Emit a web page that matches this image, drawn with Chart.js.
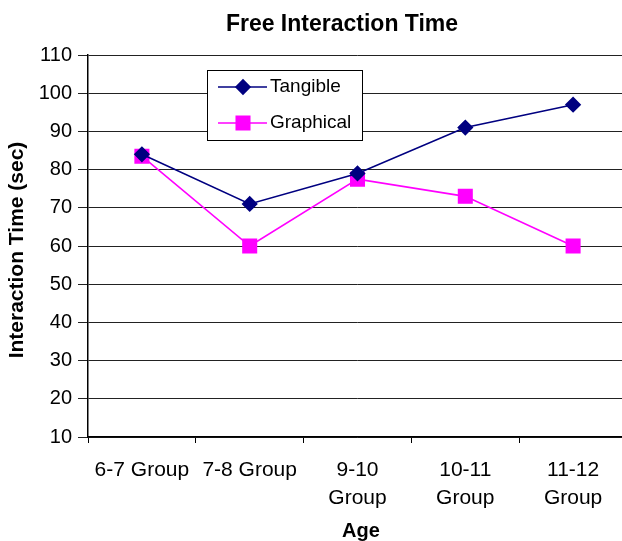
<!DOCTYPE html>
<html>
<head>
<meta charset="utf-8">
<script src="https://cdn.jsdelivr.net/npm/chart.js@4/dist/chart.umd.min.js"></script>
<style>
  html, body { margin: 0; padding: 0; background: #fff; overflow: hidden; }
  #wrap { width: 628px; height: 541px; }
</style>
</head>
<body>
<div id="wrap"><canvas id="c" width="628" height="541"></canvas></div>
<script>
// Age groups along the x axis (multi-line where the label wraps)
const categories = [
  "6-7 Group",
  "7-8 Group",
  ["9-10", "Group"],
  ["10-11", "Group"],
  ["11-12", "Group"]
];

// Mean free interaction time per group, in seconds
const tangible = [84, 71, 79, 91, 97];
const graphical = [83.5, 60, 77.5, 73, 60];

// Value axis range and step
const yMin = 10;
const yMax = 110;
const yStep = 10;

const FONT = "'Liberation Sans', Arial, Helvetica, sans-serif";

// Heading and axis titles, drawn as text on the canvas
const titlesPlugin = {
  id: 'titles',
  afterDraw(chart) {
    const ctx = chart.ctx;
    ctx.save();
    ctx.fillStyle = '#000';
    ctx.textAlign = 'center';
    ctx.textBaseline = 'middle';
    ctx.font = "bold 23px " + FONT;
    ctx.fillText('Free Interaction Time', 342, 25);
    ctx.font = "bold 20px " + FONT;
    ctx.fillText('Age', 361, 531);
    ctx.translate(17, 250);
    ctx.rotate(-Math.PI / 2);
    ctx.font = "bold 21px " + FONT;
    ctx.fillText('Interaction Time (sec)', 0, 0);
    ctx.restore();
  }
};

// Boxed legend inside the plot area, with line + marker samples
const boxLegend = {
  id: 'boxLegend',
  afterDraw(chart) {
    const ctx = chart.ctx;
    const ca = chart.chartArea;
    const x0 = ca.left + 119, y0 = ca.top + 15, w = 155, h = 70;
    ctx.save();
    ctx.fillStyle = '#fff';
    ctx.fillRect(x0, y0, w, h);
    ctx.strokeStyle = '#000';
    ctx.lineWidth = 1;
    ctx.strokeRect(x0 + 0.5, y0 + 0.5, w, h);
    chart.data.datasets.forEach((ds, i) => {
      const cy = y0 + 17 + i * 36;
      ctx.strokeStyle = ds.borderColor;
      ctx.lineWidth = ds.borderWidth;
      ctx.beginPath();
      ctx.moveTo(x0 + 11, cy);
      ctx.lineTo(x0 + 60, cy);
      ctx.stroke();
      ctx.fillStyle = ds.pointBackgroundColor;
      ctx.strokeStyle = ds.pointBorderColor;
      Chart.helpers.drawPoint(ctx, {
        pointStyle: ds.pointStyle,
        radius: ds.pointRadius,
        rotation: 0,
        borderWidth: 1
      }, x0 + 36, cy);
      ctx.fillStyle = '#000';
      ctx.font = "19px " + FONT;
      ctx.textAlign = 'left';
      ctx.textBaseline = 'middle';
      ctx.fillText(ds.label, x0 + 63, cy);
    });
    ctx.restore();
  }
};

new Chart(document.getElementById('c'), {
  type: 'line',
  data: {
    labels: categories,
    datasets: [
      {
        label: 'Tangible',
        data: tangible,
        borderColor: '#000080',
        backgroundColor: '#000080',
        pointBackgroundColor: '#000080',
        pointBorderColor: '#000080',
        borderWidth: 1.6,
        pointStyle: 'rectRot',
        pointRadius: 7,
        tension: 0
      },
      {
        label: 'Graphical',
        data: graphical,
        borderColor: '#ff00ff',
        backgroundColor: '#ff00ff',
        pointBackgroundColor: '#ff00ff',
        pointBorderColor: '#ff00ff',
        borderWidth: 1.6,
        pointStyle: 'rect',
        pointRadius: 9.5,
        tension: 0
      }
    ]
  },
  options: {
    responsive: false,
    animation: false,
    layout: {
      autoPadding: false,
      padding: { top: 55, right: 1, left: 0, bottom: 0 }
    },
    plugins: {
      legend: { display: false },
      title: { display: false },
      tooltip: { enabled: false }
    },
    scales: {
      x: {
        offset: true,
        grid: {
          offset: true,
          drawOnChartArea: false,
          tickLength: 6,
          color: '#000'
        },
        border: { color: '#000', width: 1.5 },
        ticks: {
          color: '#000',
          font: { family: FONT, size: 21, lineHeight: 1.35 },
          padding: 13,
          maxRotation: 0,
          autoSkip: false
        },
        afterFit(scale) {
          scale.height = 104;
          scale.paddingLeft = 0;
          scale.paddingRight = 0;
        }
      },
      y: {
        min: yMin,
        max: yMax,
        grid: {
          color: '#222',
          lineWidth: 1,
          tickLength: 10
        },
        border: { color: '#000', width: 1.5 },
        ticks: {
          stepSize: yStep,
          color: '#000',
          font: { family: FONT, size: 20 },
          padding: 6
        },
        afterFit(scale) { scale.width = 88; }
      }
    }
  },
  plugins: [titlesPlugin, boxLegend]
});
</script>
</body>
</html>
